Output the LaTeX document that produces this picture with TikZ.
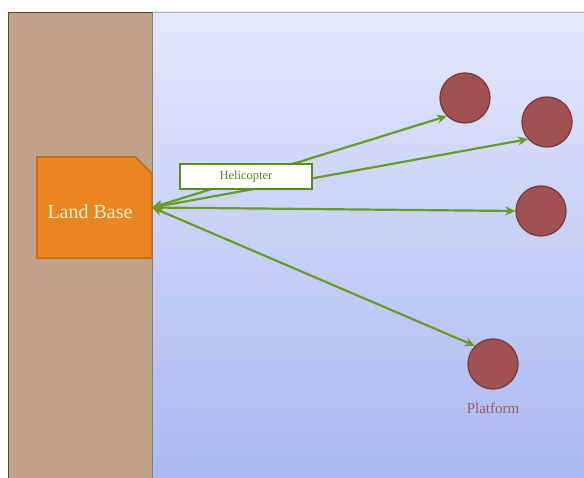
\documentclass[tikz,border=0pt]{standalone}
\usepackage{fontspec}
\setmainfont{Liberation Serif}
\usetikzlibrary{arrows.meta}
\definecolor{landfill}{HTML}{BFA288}
\definecolor{landedge}{HTML}{5E4530}
\definecolor{seatop}{HTML}{E4E8FB}
\definecolor{seabot}{HTML}{AAB8F3}
\definecolor{basefill}{HTML}{E8861F}
\definecolor{baseedge}{HTML}{C2661A}
\definecolor{basetext}{HTML}{FBEBD0}
\definecolor{routegreen}{HTML}{6A9A2B}
\definecolor{labelgreen}{HTML}{5B8A22}
\definecolor{platfill}{HTML}{A05252}
\definecolor{platedge}{HTML}{7A3A3A}
\definecolor{plattext}{HTML}{A05A5A}
\tikzset{
  platform/.style={circle, minimum size=50pt, inner sep=0pt, fill=platfill, draw=platedge, line width=1.3pt},
  route/.style={draw=routegreen, line width=2.2pt, {Stealth[length=10pt,width=9pt]}-{Stealth[length=10pt,width=9pt]}},
  tag/.style={rectangle, fill=white, draw=labelgreen, line width=1.8pt, minimum width=132pt, minimum height=25pt, inner sep=0pt, font=\fontsize{12.5}{14}\selectfont, text=labelgreen}
}
\begin{document}
\begin{tikzpicture}[x=1pt,y=-1pt]
\useasboundingbox (0,0) rectangle (584,478);
\fill[white] (0,0) rectangle (584,478);
% sea
\shade[top color=seatop, bottom color=seabot] (152,12) rectangle (584,478);
\draw[gray!60, line width=1pt] (152,12.5) -- (584,12.5);
% land strip
\fill[landfill] (8,12) rectangle (152,478);
\draw[landedge, line width=1.5pt] (8.5,478) -- (8.5,12.5) -- (152,12.5);
\draw[landedge!70, line width=1pt] (152,12) -- (152,478);
% land base
\node[minimum width=115pt, minimum height=101pt, inner sep=0pt] (base) at (94.5,207.5) {};
\draw[fill=basefill, draw=baseedge, line width=1.5pt]
  (base.north west) -- ([xshift=-17pt]base.north east) -- ([yshift=-17pt]base.north east)
  -- (base.south east) -- (base.south west) -- cycle;
\node[text=basetext, font=\fontsize{20}{24}\selectfont] (basetxt) at (90,212) {Land Base};
% platforms
\node[platform] (p1) at (465,98) {};
\node[platform] (p2) at (547,122) {};
\node[platform] (p3) at (541,211) {};
\node[platform] (p4) at (493,364) {};
\node[text=plattext, font=\fontsize{15}{18}\selectfont] (plabel) at (493,408) {Platform};
% helicopter routes
\draw[route] (base.east) -- (p1.225);
\draw[route] (base.east) -- (p2.222);
\draw[route] (base.east) -- (p3.west);
\draw[route] (base.east) -- (p4.135);
\node[tag] (heli) at (246,176.5) {Helicopter};
\end{tikzpicture}
\end{document}
